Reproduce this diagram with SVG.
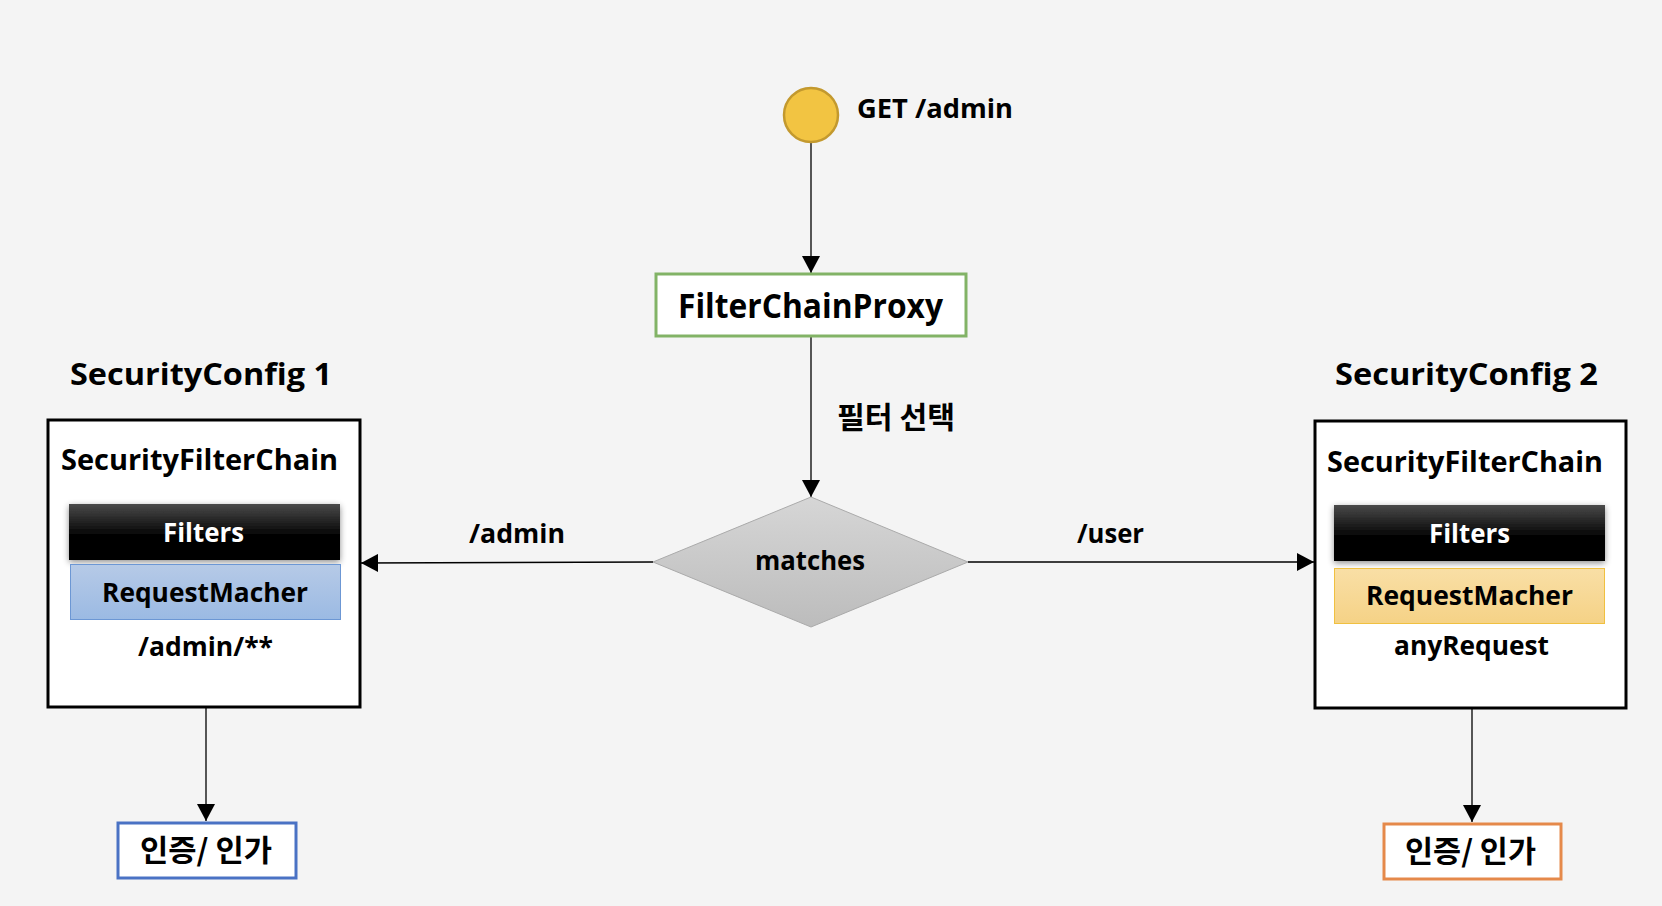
<svg xmlns="http://www.w3.org/2000/svg" width="1662" height="906" viewBox="0 0 1662 906">
<defs>
<style>
.t{font-family:"Open Sans","Noto Sans","Noto Sans CJK KR",sans-serif;font-weight:700;fill:#000}
.k{font-family:"Noto Sans CJK KR","Noto Sans",sans-serif;font-weight:700;fill:#000}
.c{text-anchor:middle}
.w{fill:#fff}
.edge{stroke:#000;stroke-width:1.3;fill:none;marker-end:url(#arr)}
.chain{fill:#fff;stroke:#000;stroke-width:3}
</style>
<marker id="arr" markerUnits="userSpaceOnUse" markerWidth="18" markerHeight="18" viewBox="0 0 18 18" refX="17" refY="9" orient="auto">
<path d="M0,0 L17,9 L0,18 Z" fill="#000"/>
</marker>
<linearGradient id="gBlack" x1="0" y1="0" x2="0" y2="1">
<stop offset="0" stop-color="#4a4a4a"/>
<stop offset="0.55" stop-color="#050505"/>
<stop offset="1" stop-color="#000"/>
</linearGradient>
<linearGradient id="gBlue" x1="0" y1="0" x2="0" y2="1">
<stop offset="0" stop-color="#b6cae7"/>
<stop offset="1" stop-color="#9bbae3"/>
</linearGradient>
<linearGradient id="gOrange" x1="0" y1="0" x2="0" y2="1">
<stop offset="0" stop-color="#f9dfa6"/>
<stop offset="1" stop-color="#f5d286"/>
</linearGradient>
<linearGradient id="gGray" x1="0" y1="0" x2="0" y2="1">
<stop offset="0" stop-color="#d6d6d6"/>
<stop offset="1" stop-color="#bcbcbc"/>
</linearGradient>
<filter id="sh" x="-10%" y="-30%" width="120%" height="170%">
<feDropShadow dx="0" dy="2" stdDeviation="3" flood-color="#000" flood-opacity="0.45"/>
</filter>
</defs>
<rect width="1662" height="906" fill="#f4f4f4"/>

<g id="connectors">
<line class="edge" x1="811" y1="143" x2="811" y2="273"/>
<line class="edge" x1="811" y1="337" x2="811" y2="497"/>
<line class="edge" x1="653" y1="562" x2="361" y2="563" stroke="#333"/>
<line class="edge" x1="968" y1="562" x2="1314" y2="562" stroke="#333"/>
<line class="edge" x1="206" y1="708" x2="206" y2="821"/>
<line class="edge" x1="1472" y1="709" x2="1472" y2="822"/>
<text class="k" x="837" y="428" font-size="30" textLength="118" lengthAdjust="spacingAndGlyphs">필터 선택</text>
<text class="t" x="469" y="543" font-size="27" textLength="96" lengthAdjust="spacingAndGlyphs">/admin</text>
<text class="t" x="1077" y="543" font-size="27" textLength="67" lengthAdjust="spacingAndGlyphs">/user</text>
</g>

<g id="start">
<circle cx="811" cy="115" r="27" fill="#f2c442" stroke="#c3992e" stroke-width="2.5"/>
<text class="t" x="857" y="118" font-size="27" textLength="156" lengthAdjust="spacingAndGlyphs">GET /admin</text>
</g>

<g id="filterChainProxy">
<rect x="656" y="274" width="310" height="62" fill="#fff" stroke="#82b366" stroke-width="3"/>
<text class="t" x="678" y="318" font-size="34" textLength="265" lengthAdjust="spacingAndGlyphs">FilterChainProxy</text>
</g>

<g id="matches">
<polygon points="811,497 968,562 811,627 653,562" fill="url(#gGray)" stroke="#aaa" stroke-width="1"/>
<text class="t" x="755" y="570" font-size="27" textLength="110" lengthAdjust="spacingAndGlyphs">matches</text>
</g>

<g id="securityConfig1">
<text class="t" x="70" y="385" font-size="31" textLength="262" lengthAdjust="spacingAndGlyphs">SecurityConfig 1</text>
<rect class="chain" x="48" y="420" width="312" height="287"/>
<text class="t" x="61" y="470" font-size="29" textLength="277" lengthAdjust="spacingAndGlyphs">SecurityFilterChain</text>
<rect x="69" y="504" width="271" height="56" fill="url(#gBlack)" filter="url(#sh)"/>
<text class="t w" x="163" y="542" font-size="27" textLength="81" lengthAdjust="spacingAndGlyphs">Filters</text>
<rect x="70.5" y="564.5" width="270" height="55" fill="url(#gBlue)" stroke="#6c97d4" stroke-width="1"/>
<text class="t" x="102" y="602" font-size="27" textLength="206" lengthAdjust="spacingAndGlyphs">RequestMacher</text>
<text class="t" x="138" y="656" font-size="27" textLength="135" lengthAdjust="spacingAndGlyphs">/admin/**</text>
</g>

<g id="securityConfig2">
<text class="t" x="1335" y="385" font-size="31" textLength="263" lengthAdjust="spacingAndGlyphs">SecurityConfig 2</text>
<rect class="chain" x="1315" y="421" width="311" height="287"/>
<text class="t" x="1327" y="472" font-size="29" textLength="276" lengthAdjust="spacingAndGlyphs">SecurityFilterChain</text>
<rect x="1334" y="505" width="271" height="56" fill="url(#gBlack)" filter="url(#sh)"/>
<text class="t w" x="1429" y="543" font-size="27" textLength="81" lengthAdjust="spacingAndGlyphs">Filters</text>
<rect x="1334.5" y="568.5" width="270" height="55" fill="url(#gOrange)" stroke="#f0c040" stroke-width="1"/>
<text class="t" x="1366" y="605" font-size="27" textLength="207" lengthAdjust="spacingAndGlyphs">RequestMacher</text>
<text class="t" x="1394" y="655" font-size="27" textLength="155" lengthAdjust="spacingAndGlyphs">anyRequest</text>
</g>

<g id="auth1">
<rect x="118" y="823" width="178" height="55" fill="#fff" stroke="#4a72c4" stroke-width="3"/>
<text class="k" x="140" y="861" font-size="30" textLength="132" lengthAdjust="spacingAndGlyphs">인증/ 인가</text>
</g>

<g id="auth2">
<rect x="1384" y="824" width="177" height="55" fill="#fff" stroke="#e5894a" stroke-width="3"/>
<text class="k" x="1405" y="862" font-size="30" textLength="131" lengthAdjust="spacingAndGlyphs">인증/ 인가</text>
</g>
</svg>
